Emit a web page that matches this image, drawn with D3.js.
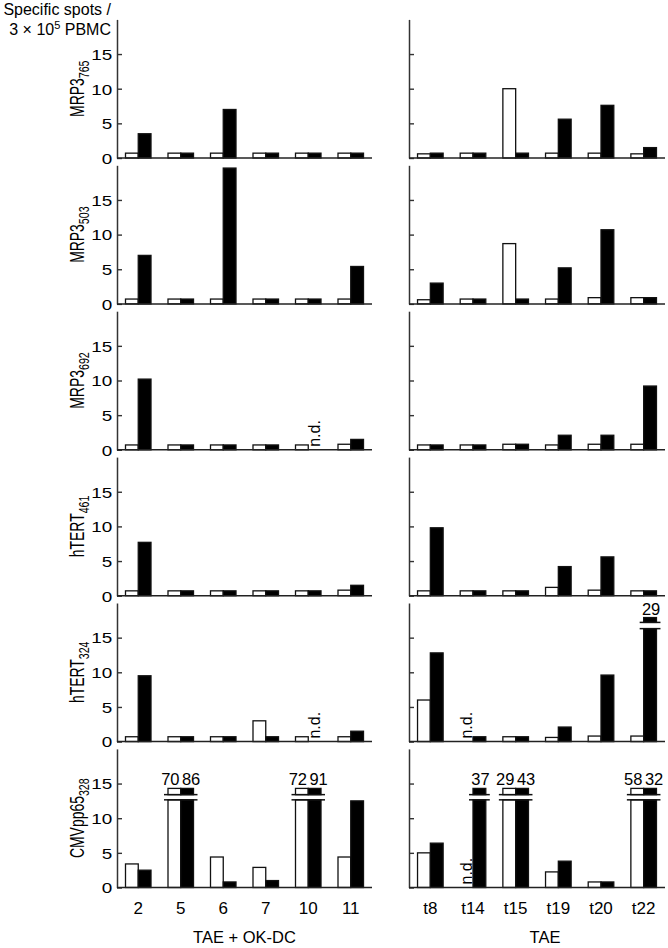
<!DOCTYPE html>
<html><head><meta charset="utf-8">
<script src="https://cdn.jsdelivr.net/npm/d3@7"></script>
<style>
body{margin:0;background:#fff}
svg{display:block}
text{font-family:"Liberation Sans",Arial,Helvetica,sans-serif;fill:#000}
</style>
</head><body>
<svg id="chart" width="668" height="948"></svg>
<script>
// ---------- data ----------
const leftCategories = ["2", "5", "6", "7", "10", "11"];
const rightCategories = ["t8", "t14", "t15", "t19", "t20", "t22"];
const leftGroupTitle = "TAE + OK-DC";
const rightGroupTitle = "TAE";
const peptideNames = ["MRP3", "MRP3", "MRP3", "hTERT", "hTERT", "CMVpp65"];
const peptideSubs = ["765", "503", "692", "461", "324", "328"];
const yTicks = [0, 5, 10, 15];
const yMax = 20;

// white bars (open) and black bars (filled); null = n.d.
const leftWhite = [
  [0.7, 0.7, 0.7, 0.7, 0.7, 0.7],
  [0.7, 0.7, 0.7, 0.7, 0.7, 0.7],
  [0.7, 0.7, 0.7, 0.7, 0.7, 0.8],
  [0.7, 0.7, 0.7, 0.7, 0.7, 0.8],
  [0.7, 0.7, 0.7, 3.0, 0.7, 0.7],
  [3.4, 70, 4.4, 2.9, 72, 4.4]
];
const leftBlack = [
  [3.5, 0.7, 7.0, 0.7, 0.7, 0.7],
  [7.0, 0.7, 19.6, 0.7, 0.7, 5.4],
  [10.2, 0.7, 0.7, 0.7, null, 1.5],
  [7.7, 0.7, 0.7, 0.7, 0.7, 1.5],
  [9.5, 0.7, 0.7, 0.7, null, 1.5],
  [2.5, 86, 0.8, 1.0, 91, 12.5]
];
const rightWhite = [
  [0.6, 0.7, 10.0, 0.7, 0.7, 0.6],
  [0.6, 0.7, 8.7, 0.7, 0.9, 0.9],
  [0.7, 0.7, 0.8, 0.7, 0.8, 0.8],
  [0.7, 0.7, 0.7, 1.2, 0.8, 0.7],
  [6.0, null, 0.7, 0.6, 0.8, 0.8],
  [5.0, null, 29, 2.25, 0.8, 58]
];
const rightBlack = [
  [0.7, 0.7, 0.7, 5.6, 7.6, 1.5],
  [3.0, 0.7, 0.7, 5.2, 10.7, 0.9],
  [0.7, 0.7, 0.8, 2.1, 2.1, 9.2],
  [9.8, 0.7, 0.7, 4.2, 5.6, 0.7],
  [12.8, 0.7, 0.7, 2.1, 9.6, 29],
  [6.4, 37, 43, 3.8, 0.8, 32]
];
// axis break per row: [lower edge, upper edge, stub top]  (null = no break)
const rowBreaks = [null, null, null, null, [16.3, 17.2, 17.9], [12.65, 13.4, 14.3]];

// ---------- layout ----------
const svg = d3.select("#chart");
const firstBaseline = 158, rowStep = 145.9, plotH = 138.6;
const panels = [
  {cats: leftCategories, white: leftWhite, black: leftBlack, x0: 117, x1: 372, labels: true},
  {cats: rightCategories, white: rightWhite, black: rightBlack, x0: 409, x1: 665, labels: false}
];
const series = ["white", "black"];
const ink = "#111";

// title
svg.append("text").attr("text-anchor", "end").attr("font-size", 16)
  .attr("x", 111).attr("y", 15).text("Specific spots /");
const t2 = svg.append("text").attr("text-anchor", "end").attr("font-size", 16)
  .attr("x", 111).attr("y", 35);
t2.append("tspan").text("3 \u00d7 10");
t2.append("tspan").attr("font-size", 11).attr("dy", -6).text("5");
t2.append("tspan").attr("dy", 6).text(" PBMC");

peptideNames.forEach((name, r) => {
  const base = firstBaseline + r * rowStep;
  const y = d3.scaleLinear().domain([0, yMax]).range([base, base - plotH]);
  const brk = rowBreaks[r];

  // rotated row label
  const lab = svg.append("text")
    .attr("transform", `translate(84,${base - plotH / 2}) rotate(-90) scale(0.82,1.15)`)
    .attr("text-anchor", "middle").attr("font-size", 17);
  lab.append("tspan").text(name);
  lab.append("tspan").attr("font-size", 13).attr("dy", 4).text(peptideSubs[r]);

  panels.forEach((p, pi) => {
    const x = d3.scaleBand().domain(p.cats).range([p.x0, p.x1])
      .paddingInner(0.4).paddingOuter(0.2);
    const xs = d3.scaleBand().domain(series).range([0, x.bandwidth()]);

    const axis = d3.axisLeft(y).tickValues(yTicks).tickSizeInner(-5).tickSizeOuter(0).tickPadding(4);
    if (!p.labels) axis.tickFormat("");
    const g = svg.append("g").attr("transform", `translate(${p.x0},0)`).call(axis);
    g.select(".domain").attr("stroke", "#333").attr("stroke-width", 1.5);
    g.selectAll(".tick line").attr("stroke", "#333").attr("stroke-width", 1.4);
    g.selectAll(".tick text").attr("font-size", 16)
      .attr("font-family", "Liberation Sans, Arial, sans-serif")
      .attr("fill", "#000").attr("dy", "0.36em")
      .attr("transform", "scale(1.18,0.92)");

    // bars
    p.cats.forEach((c, i) => {
      const vals = {white: p.white[r][i], black: p.black[r][i]};
      const brokenCount = series.filter(s => vals[s] != null && brk && vals[s] > brk[0]).length;
      series.forEach(s => {
        const v = vals[s];
        const bx = x(c) + xs(s), bw = xs.bandwidth();
        const fill = s === "white" ? "#fff" : "#000";
        if (v == null) {
          svg.append("text")
            .attr("transform", `translate(${bx + bw / 2 + 5},${y(0) - 3}) rotate(-90)`)
            .attr("font-size", 16).attr("text-anchor", "start").text("n.d.");
          return;
        }
        if (brk && v > brk[0]) {
          svg.append("rect").attr("x", bx).attr("width", bw)
            .attr("y", y(brk[0])).attr("height", y(0) - y(brk[0]))
            .attr("fill", fill).attr("stroke", ink).attr("stroke-width", 1.3);
          svg.append("rect").attr("x", bx).attr("width", bw)
            .attr("y", y(brk[2])).attr("height", y(brk[1]) - y(brk[2]))
            .attr("fill", fill).attr("stroke", ink).attr("stroke-width", 1.3);
          [brk[0], brk[1]].forEach(bv => {
            svg.append("line")
              .attr("x1", bx - (s === "white" || brokenCount === 1 ? 4 : 0))
              .attr("x2", bx + bw + (s === "black" || brokenCount === 1 ? 4 : 0))
              .attr("y1", y(bv)).attr("y2", y(bv))
              .attr("stroke", ink).attr("stroke-width", 1.5);
          });
          const off = brokenCount === 2 ? (s === "white" ? -4 : 4) : 1;
          svg.append("text").attr("x", bx + bw / 2 + off).attr("y", y(brk[2]) - 3)
            .attr("text-anchor", "middle").attr("font-size", 16.5).text(v);
        } else {
          svg.append("rect").attr("x", bx).attr("width", bw)
            .attr("y", y(v)).attr("height", y(0) - y(v))
            .attr("fill", fill).attr("stroke", ink).attr("stroke-width", 1.3);
        }
      });
    });

    // baseline
    svg.append("line").attr("x1", p.x0).attr("x2", p.x1)
      .attr("y1", y(0)).attr("y2", y(0)).attr("stroke", "#222").attr("stroke-width", 1.5);

    // category labels under last row
    if (r === peptideNames.length - 1) {
      p.cats.forEach(c => {
        svg.append("text").attr("x", x(c) + x.bandwidth() / 2).attr("y", 914)
          .attr("text-anchor", "middle").attr("font-size", 17).text(c);
      });
      svg.append("text").attr("x", pi === 0 ? (p.x0 + p.x1) / 2 : 545).attr("y", 943)
        .attr("text-anchor", "middle").attr("font-size", 16.5)
        .text(pi === 0 ? leftGroupTitle : rightGroupTitle);
    }
  });
});
</script>
</body></html>
